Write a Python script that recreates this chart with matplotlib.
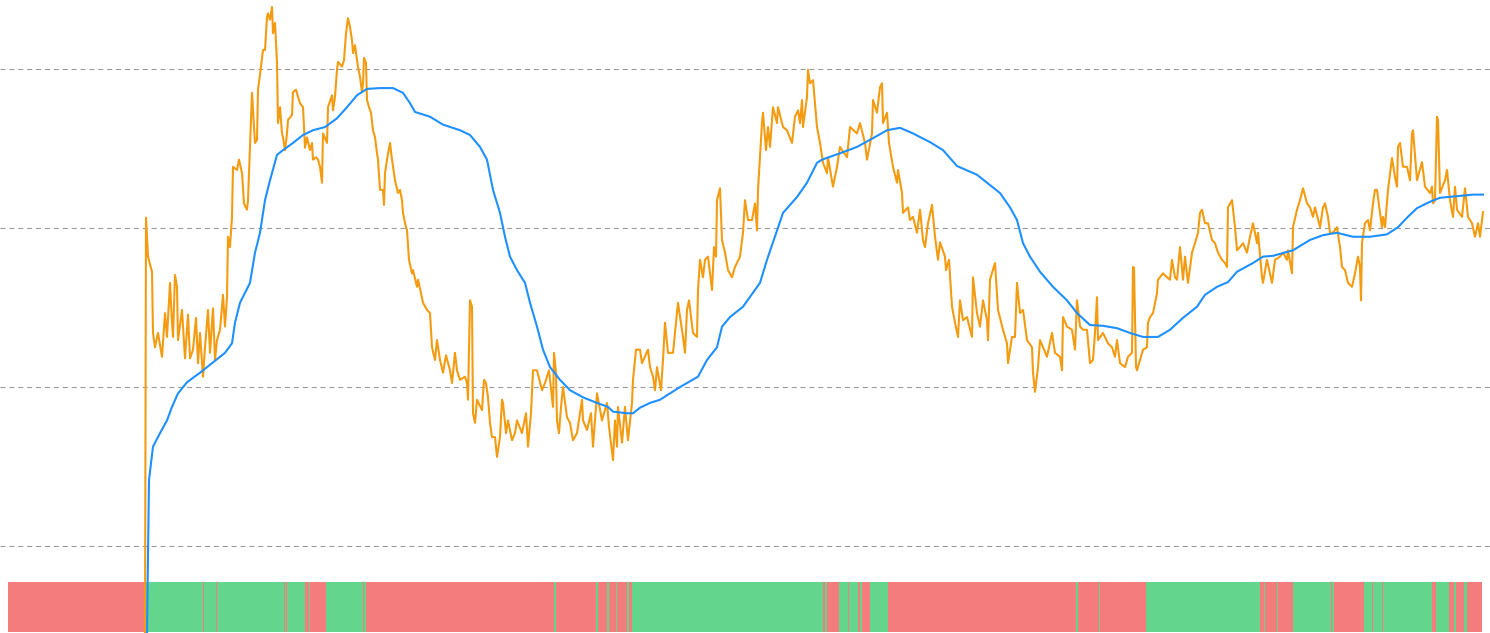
import matplotlib
matplotlib.use("Agg")
import matplotlib.pyplot as plt
import numpy as np

# price series (day index, value)
price_day = [137, 138, 140, 144, 145, 147, 150, 154, 157, 159, 162, 164, 165, 167, 169, 170, 174, 177, 180, 182,
             185, 188, 190, 192, 195, 197, 200, 202, 205, 207, 209, 212, 215, 217, 219, 220, 222, 224, 225, 229,
             231, 234, 236, 239, 240, 242, 244, 247, 249, 250, 253, 255, 257, 259, 260, 262, 264, 265, 267, 269,
             270, 272, 274, 275, 277, 279, 280, 284, 285, 288, 290, 292, 295, 297, 299, 302, 304, 305, 308, 310,
             312, 314, 315, 319, 320, 324, 325, 327, 329, 330, 334, 336, 338, 340, 342, 344, 345, 347, 349, 350,
             352, 354, 355, 356, 358, 359, 361, 363, 365, 367, 369, 370, 372, 375, 376, 377, 379, 382, 384, 387,
             390, 392, 394, 395, 397, 399, 401, 404, 405, 409, 410, 413, 415, 419, 422, 424, 427, 429, 432, 435,
             438, 442, 444, 447, 449, 452, 457, 459, 460, 462, 464, 465, 467, 469, 474, 476, 478, 480, 482, 484,
             487, 489, 492, 494, 495, 498, 500, 504, 507, 509, 514, 518, 520, 523, 525, 529, 534, 537, 541, 545,
             546, 548, 549, 551, 553, 555, 559, 562, 565, 569, 574, 575, 579, 583, 585, 589, 594, 599, 601, 605,
             607, 609, 610, 614, 617, 620, 624, 625, 628, 632, 634, 640, 642, 645, 647, 649, 653, 655, 657, 660,
             665, 670, 675, 677, 679, 681, 685, 689, 690, 692, 695, 697, 700, 704, 706, 708, 709, 712, 714, 717,
             720, 724, 727, 732, 735, 737, 740, 744, 747, 749, 750, 754, 755, 758, 760, 762, 765, 769, 770, 775,
             779, 784, 787, 790, 792, 794, 795, 799, 800, 802, 805, 809, 812, 815, 819, 820, 825, 829, 832, 839,
             842, 849, 852, 857, 859, 864, 865, 869, 872, 874, 875, 879, 881, 885, 889, 890, 894, 895, 900, 902,
             905, 909, 912, 915, 917, 920, 924, 927, 930, 932, 937, 938, 941, 944, 947, 950, 952, 955, 959, 964,
             965, 969, 972, 975, 979, 980, 982, 987, 990, 995, 999, 1000, 1004, 1007, 1009, 1012, 1015, 1019, 1024, 1025,
             1027, 1030, 1032, 1039, 1044, 1047, 1052, 1054, 1055, 1059, 1064, 1067, 1069, 1072, 1075, 1079, 1082, 1085, 1087, 1089,
             1090, 1095, 1100, 1104, 1107, 1109, 1112, 1117, 1120, 1124, 1125, 1126, 1128, 1129, 1135, 1139, 1140, 1142, 1145, 1149,
             1150, 1155, 1159, 1162, 1164, 1167, 1169, 1172, 1175, 1177, 1180, 1184, 1187, 1190, 1192, 1194, 1197, 1200, 1204, 1207,
             1210, 1214, 1217, 1219, 1220, 1224, 1227, 1229, 1232, 1235, 1239, 1242, 1245, 1249, 1250, 1254, 1255, 1259, 1264, 1267,
             1272, 1275, 1279, 1280, 1284, 1285, 1289, 1292, 1295, 1299, 1302, 1305, 1307, 1312, 1315, 1317, 1320, 1322, 1325, 1329,
             1332, 1334, 1337, 1340, 1344, 1347, 1350, 1352, 1353, 1354, 1357, 1360, 1362, 1365, 1367, 1369, 1372, 1374, 1375, 1377,
             1380, 1384, 1387, 1389, 1390, 1392, 1395, 1399, 1402, 1404, 1405, 1409, 1414, 1417, 1422, 1424, 1425, 1427, 1429, 1430,
             1432, 1437, 1439, 1442, 1445, 1447, 1449, 1454, 1457, 1460, 1464, 1467, 1470, 1472, 1475]
price = [-11.0, 41.3, 36.4, 34.5, 26.8, 25.0, 26.8, 23.8, 29.3, 26.3, 33.1, 28.1, 26.3, 34.1, 32.6, 25.9, 29.7, 23.6, 29.1, 23.6,
         24.7, 28.7, 23.0, 26.8, 21.3, 25.0, 29.7, 24.3, 29.9, 23.4, 25.9, 27.2, 31.6, 27.6, 31.3, 38.9, 37.6, 41.4, 47.7, 47.3,
         48.6, 46.9, 43.1, 42.3, 43.5, 50.2, 57.0, 50.7, 51.1, 57.4, 60.3, 62.4, 62.4, 66.5, 67.0, 66.2, 67.8, 64.5, 65.8, 60.8,
         53.2, 55.2, 51.9, 51.4, 49.8, 51.9, 53.6, 54.2, 57.1, 57.4, 56.5, 55.7, 55.2, 50.1, 51.4, 49.8, 50.7, 48.6, 48.9, 48.6,
         47.7, 45.7, 51.9, 50.7, 55.2, 56.7, 54.8, 56.5, 59.9, 60.9, 60.3, 61.1, 64.5, 66.4, 65.3, 63.6, 62.0, 63.0, 61.1, 60.3,
         59.0, 57.1, 58.2, 61.4, 60.8, 56.1, 55.2, 54.5, 52.3, 51.4, 49.4, 48.6, 44.8, 44.8, 42.9, 46.9, 48.6, 50.7, 48.6, 46.0,
         44.4, 44.8, 43.5, 41.9, 40.6, 39.7, 36.0, 34.3, 34.7, 32.6, 33.5, 31.8, 30.6, 29.7, 29.3, 25.0, 23.4, 25.9, 23.4, 21.8,
         24.0, 22.1, 20.5, 24.3, 22.1, 20.9, 21.3, 20.5, 18.4, 30.9, 30.1, 16.7, 15.5, 18.4, 17.1, 20.9, 20.5, 18.7, 15.5, 13.7,
         13.7, 11.2, 13.7, 18.4, 18.0, 14.2, 15.8, 13.3, 14.2, 15.8, 14.2, 16.7, 12.5, 16.7, 22.1, 22.1, 19.6, 20.5, 22.1, 17.5,
         24.3, 21.8, 15.8, 14.2, 17.5, 20.0, 16.2, 15.5, 13.3, 14.2, 18.4, 15.8, 14.6, 16.7, 12.5, 19.2, 15.8, 18.0, 15.0, 10.8,
         15.8, 12.5, 17.5, 13.0, 17.5, 13.3, 18.0, 20.9, 24.7, 24.7, 23.0, 24.7, 22.5, 21.3, 19.6, 22.5, 19.6, 23.4, 28.1, 24.3,
         24.3, 30.6, 26.3, 24.3, 29.7, 30.9, 26.8, 26.3, 32.2, 36.0, 33.8, 36.0, 36.4, 32.2, 37.6, 36.4, 43.5, 45.0, 38.5, 36.9,
         34.7, 33.8, 35.1, 36.4, 39.4, 43.5, 41.0, 41.0, 43.1, 39.7, 44.8, 53.2, 54.5, 49.8, 52.7, 50.2, 55.2, 53.2, 55.2, 52.7,
         52.3, 50.7, 54.0, 54.8, 53.2, 56.1, 52.7, 56.5, 59.9, 58.2, 58.6, 52.7, 50.7, 48.2, 46.9, 48.9, 45.2, 47.7, 50.2, 48.9,
         52.7, 51.9, 53.2, 50.7, 48.6, 51.9, 56.1, 54.5, 57.7, 58.2, 53.2, 54.5, 50.7, 47.7, 45.7, 47.3, 44.4, 41.9, 42.6, 41.0,
         41.4, 39.4, 42.3, 38.5, 37.6, 40.6, 42.9, 38.9, 36.0, 38.2, 36.4, 34.7, 36.0, 30.1, 28.1, 26.3, 30.9, 28.4, 28.8, 26.3,
         33.8, 29.3, 27.6, 30.9, 28.4, 25.9, 33.5, 35.6, 29.7, 27.2, 25.5, 23.0, 26.3, 26.3, 33.1, 29.3, 29.7, 25.9, 25.0, 21.8,
         19.4, 22.5, 25.9, 23.8, 26.8, 24.3, 23.8, 22.1, 28.8, 27.6, 27.2, 24.7, 30.9, 27.6, 27.2, 27.2, 23.0, 23.4, 26.8, 31.3,
         25.9, 26.8, 25.5, 25.0, 23.8, 25.9, 23.0, 22.5, 23.8, 24.3, 35.1, 35.0, 22.5, 22.1, 24.7, 25.0, 28.1, 28.8, 29.3, 31.8,
         33.5, 34.3, 33.8, 33.5, 36.0, 33.8, 33.5, 37.6, 33.5, 36.4, 33.1, 36.9, 38.1, 39.4, 41.9, 42.3, 40.6, 40.6, 38.5, 38.1,
         36.9, 36.0, 35.6, 35.1, 42.6, 43.5, 40.1, 37.2, 37.6, 38.1, 36.9, 38.9, 40.6, 38.1, 39.4, 33.8, 33.1, 36.0, 33.1, 36.0,
         36.4, 36.9, 36.0, 37.2, 34.3, 40.1, 42.3, 43.5, 45.0, 43.1, 42.6, 41.4, 42.6, 40.1, 42.6, 43.1, 41.4, 39.4, 39.4, 40.1,
         37.6, 35.1, 34.7, 33.1, 32.6, 34.3, 36.4, 35.1, 30.9, 38.1, 40.6, 41.0, 39.7, 43.1, 44.8, 44.8, 41.9, 40.1, 41.4, 40.1,
         44.8, 48.8, 46.4, 45.2, 50.2, 50.7, 47.7, 47.7, 46.0, 51.9, 52.3, 46.0, 48.3, 45.2, 44.4, 45.2, 43.1, 43.5, 54.0, 53.6,
         44.4, 46.0, 47.3, 43.5, 41.4, 45.2, 42.3, 41.4, 45.0, 41.4, 40.6, 38.9, 40.6, 38.9, 42.0]

# moving average
ma_day = [139, 141, 145, 152, 159, 164, 170, 179, 192, 205, 217, 224, 227, 232, 242, 247, 252, 257, 262, 269,
          275, 285, 295, 305, 317, 329, 339, 349, 359, 372, 385, 395, 402, 407, 422, 435, 452, 462, 472, 479,
          485, 492, 497, 502, 509, 517, 522, 529, 535, 542, 552, 562, 575, 589, 600, 605, 619, 625, 632, 642,
          652, 672, 690, 699, 709, 714, 722, 735, 752, 759, 769, 775, 789, 799, 809, 814, 832, 849, 865, 879,
          892, 905, 922, 935, 942, 949, 969, 982, 992, 1002, 1009, 1015, 1022, 1032, 1045, 1059, 1069, 1082, 1095, 1109,
          1122, 1135, 1150, 1162, 1175, 1189, 1197, 1209, 1220, 1229, 1245, 1255, 1265, 1285, 1302, 1315, 1329, 1345, 1362, 1379,
          1390, 1399, 1409, 1422, 1432, 1449, 1465, 1475]
ma = [-11.0, 8.3, 12.5, 14.2, 15.8, 17.5, 19.2, 20.6, 21.8, 23.1, 24.3, 25.5, 28.1, 30.6, 33.1, 36.9, 39.4, 43.5, 46.0, 49.2,
      49.8, 50.7, 51.7, 52.3, 52.7, 53.8, 55.2, 56.7, 57.5, 57.6, 57.6, 57.0, 55.7, 54.6, 54.0, 53.0, 52.3, 51.7, 50.2, 48.6,
      44.8, 41.9, 38.9, 36.4, 34.7, 33.1, 30.6, 27.6, 24.7, 22.5, 20.9, 19.6, 18.7, 18.0, 17.5, 16.9, 16.7, 16.7, 17.4, 18.0,
      18.4, 20.0, 21.3, 23.4, 25.0, 27.6, 28.8, 30.1, 33.1, 36.0, 39.7, 41.9, 43.9, 45.7, 48.2, 48.6, 49.4, 50.2, 51.3, 52.3,
      52.6, 51.9, 50.8, 49.8, 48.8, 47.8, 46.7, 45.4, 44.4, 42.6, 41.0, 38.1, 36.4, 34.5, 32.6, 30.9, 29.3, 27.8, 27.7, 27.4,
      26.8, 26.3, 26.3, 27.2, 28.7, 30.1, 31.6, 32.6, 33.2, 34.5, 35.6, 36.4, 36.5, 37.2, 38.5, 39.1, 39.4, 38.9, 38.9, 39.2,
      40.1, 41.3, 42.5, 43.3, 43.8, 44.0, 44.2, 44.2]

# market regime strip: day boundaries and state of each span
regime_edges = [0, 137, 195, 196, 208, 209, 276, 277, 278, 279, 297, 301, 302, 318, 355, 356, 358, 546, 548, 588,
                590, 599, 601, 608, 609, 619, 621, 624, 815, 817, 819, 831, 840, 841, 850, 852, 854, 862, 880, 1068,
                1070, 1091, 1092, 1138, 1252, 1256, 1257, 1269, 1270, 1285, 1323, 1324, 1326, 1356, 1364, 1365, 1374, 1375, 1424, 1428,
                1441, 1446, 1448, 1456, 1459, 1474]
regime_state = ['bear', 'bull'] * 32 + ['bear']

price_color = '#F39C12'
ma_color = '#1E90FF'
state_color = {'bull': '#63D58D', 'bear': '#F47C7C'}

fig = plt.figure(figsize=(14.9, 6.33), dpi=100)
ax = fig.add_axes([0, 0, 1, 1])

for y in [0, 20, 40, 60]:
    ax.axhline(y, color='#9a9a9a', lw=0.8, linestyle=(0, (4.5, 3.5)), zorder=1)

band_lo, band_hi = -10.82, -4.53
for i, s in enumerate(regime_state):
    ax.broken_barh([(regime_edges[i], regime_edges[i + 1] - regime_edges[i])],
                   (band_lo, band_hi - band_lo), facecolors=state_color[s],
                   edgecolor='none', zorder=2)

ax.plot(price_day, price, color=price_color, lw=1.5, zorder=4)
ax.plot(ma_day, ma, color=ma_color, lw=1.5, zorder=5)

ax.set_xlim(-8, 1482)
ax.set_ylim(-10.94, 68.68)
ax.axis('off')

fig.savefig('out.png', dpi=100, facecolor='white')
